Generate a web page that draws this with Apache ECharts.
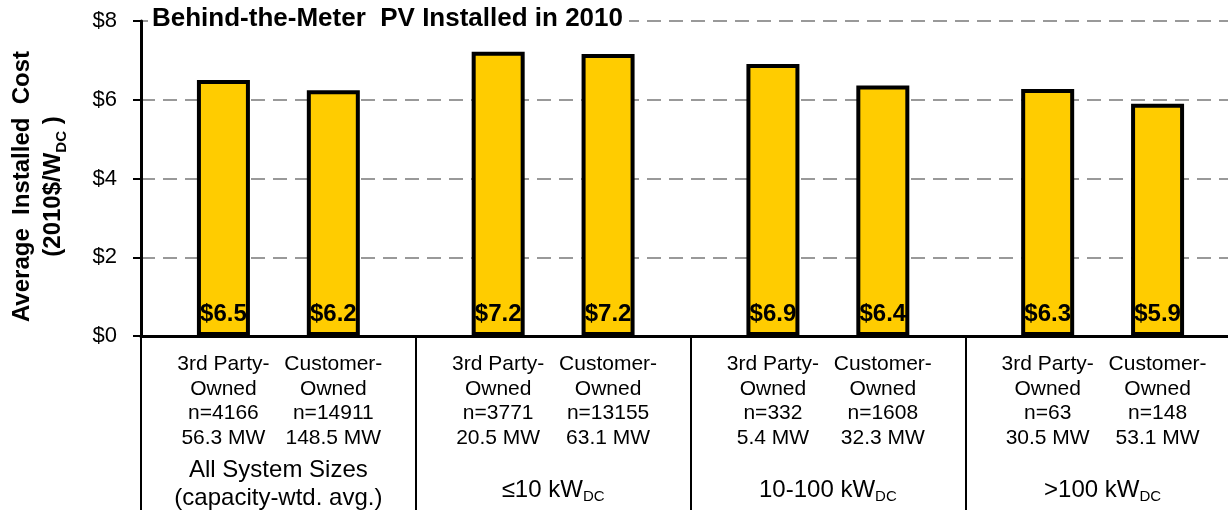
<!DOCTYPE html>
<html>
<head>
<meta charset="utf-8">
<script src="https://cdn.jsdelivr.net/npm/echarts@6/dist/echarts.min.js"></script>
<style>
html,body{margin:0;padding:0;background:#fff;width:1228px;height:510px;overflow:hidden;}
#chart{width:1228px;height:510px;overflow:hidden;}
</style>
</head>
<body>
<div id="chart"></div>
<script>
// ---- data ----
const groupNames = ['All System Sizes\n(capacity-wtd. avg.)', '≤10 kW{sub|DC}', '10-100 kW{sub|DC}', '>100 kW{sub|DC}'];
const ownership = ['3rd Party-\nOwned', 'Customer-\nOwned'];
const counts = ['n=4166', 'n=14911', 'n=3771', 'n=13155', 'n=332', 'n=1608', 'n=63', 'n=148'];
const capacityMW = ['56.3 MW', '148.5 MW', '20.5 MW', '63.1 MW', '5.4 MW', '32.3 MW', '30.5 MW', '53.1 MW'];
const costs = [6.50, 6.24, 7.22, 7.16, 6.91, 6.36, 6.27, 5.90];
const yMin = 0, yMax = 8, yStep = 2;
const titleText = 'Behind-the-Meter  PV Installed in 2010';
const yName = 'Average  Installed  Cost\n(2010$/W{sub|DC} )';

// ---- build slots: each group = [gap, bar, gap, bar, gap] ----
const slotIds = [], slotLabels = [], slotValues = [];
for (let g = 0; g < groupNames.length; g++) {
  for (let s = 0; s < 5; s++) {
    slotIds.push('s' + (g * 5 + s));
    if (s === 1 || s === 3) {
      const i = g * 2 + (s === 1 ? 0 : 1);
      slotLabels.push(ownership[i % 2] + '\n' + counts[i] + '\n' + capacityMW[i]);
      slotValues.push(costs[i]);
    } else {
      slotLabels.push('');
      slotValues.push(null);
    }
  }
}

const FF = '"Liberation Sans", Arial, sans-serif';
const chart = echarts.init(document.getElementById('chart'), null, {renderer: 'canvas', width: 1228, height: 510});
chart.setOption({
  animation: false,
  backgroundColor: '#fff',
  textStyle: {fontFamily: FF, color: '#000'},
  title: {
    text: titleText,
    left: 148, top: 4,
    padding: [2, 6, 2, 4],
    backgroundColor: '#fff',
    textStyle: {fontFamily: FF, fontSize: 26, fontWeight: 'bold', color: '#000'},
    z: 10
  },
  grid: {left: 141, top: 21, width: 1099, height: 315, containLabel: false, outerBoundsMode: 'none'},
  xAxis: [
    {
      type: 'category',
      data: slotIds,
      position: 'bottom',
      axisLine: {show: true, lineStyle: {color: '#000', width: 3}},
      axisTick: {show: false},
      axisLabel: {
        interval: 0, margin: 16,
        fontFamily: FF, fontSize: 21, lineHeight: 24.5, color: '#000',
        formatter: (v, i) => slotLabels[i]
      },
      z: 5
    },
    {
      type: 'category',
      data: groupNames,
      position: 'bottom',
      offset: 0,
      axisLine: {show: false},
      axisTick: {show: true, length: 180, lineStyle: {color: '#000', width: 2}},
      axisLabel: {
        interval: 0, margin: 148, verticalAlign: 'middle',
        fontFamily: FF, fontSize: 24, lineHeight: 28, color: '#000',
        // single-line group labels sit a little lower than the two-line one
        formatter: v => v.indexOf('\n') >= 0 ? v : '{gap| }\n' + v,
        rich: {
          gap: {fontSize: 1, lineHeight: 12},
          sub: {fontFamily: FF, fontSize: 15, lineHeight: 16, verticalAlign: 'bottom', color: '#000'}
        }
      }
    }
  ],
  yAxis: {
    type: 'value',
    min: yMin, max: yMax, interval: yStep,
    name: yName,
    nameLocation: 'middle',
    nameGap: 72,
    nameTextStyle: {
      fontFamily: FF, fontSize: 24, fontWeight: 'bold', lineHeight: 31, color: '#000',
      padding: [0, 16, 0, 0],
      rich: {sub: {fontFamily: FF, fontSize: 15, fontWeight: 'bold', lineHeight: 18, verticalAlign: 'bottom', color: '#000'}}
    },
    axisLine: {show: true, lineStyle: {color: '#000', width: 3}},
    axisTick: {show: true, length: 8, lineStyle: {color: '#000', width: 2}},
    axisLabel: {
      margin: 24, fontFamily: FF, fontSize: 22, color: '#000',
      formatter: v => '$' + v
    },
    splitLine: {show: true, lineStyle: {color: '#999', width: 2, type: [14, 8]}}
  },
  series: [{
    type: 'bar',
    xAxisIndex: 0,
    data: slotValues,
    barWidth: 53,
    itemStyle: {color: '#FFCC00', borderColor: '#000', borderWidth: 4},
    label: {
      show: true, position: 'insideBottom', distance: 10,
      fontFamily: FF, fontSize: 24, fontWeight: 'bold', color: '#000',
      formatter: p => p.value == null ? '' : '$' + p.value.toFixed(1)
    }
  }]
});
</script>
</body>
</html>
